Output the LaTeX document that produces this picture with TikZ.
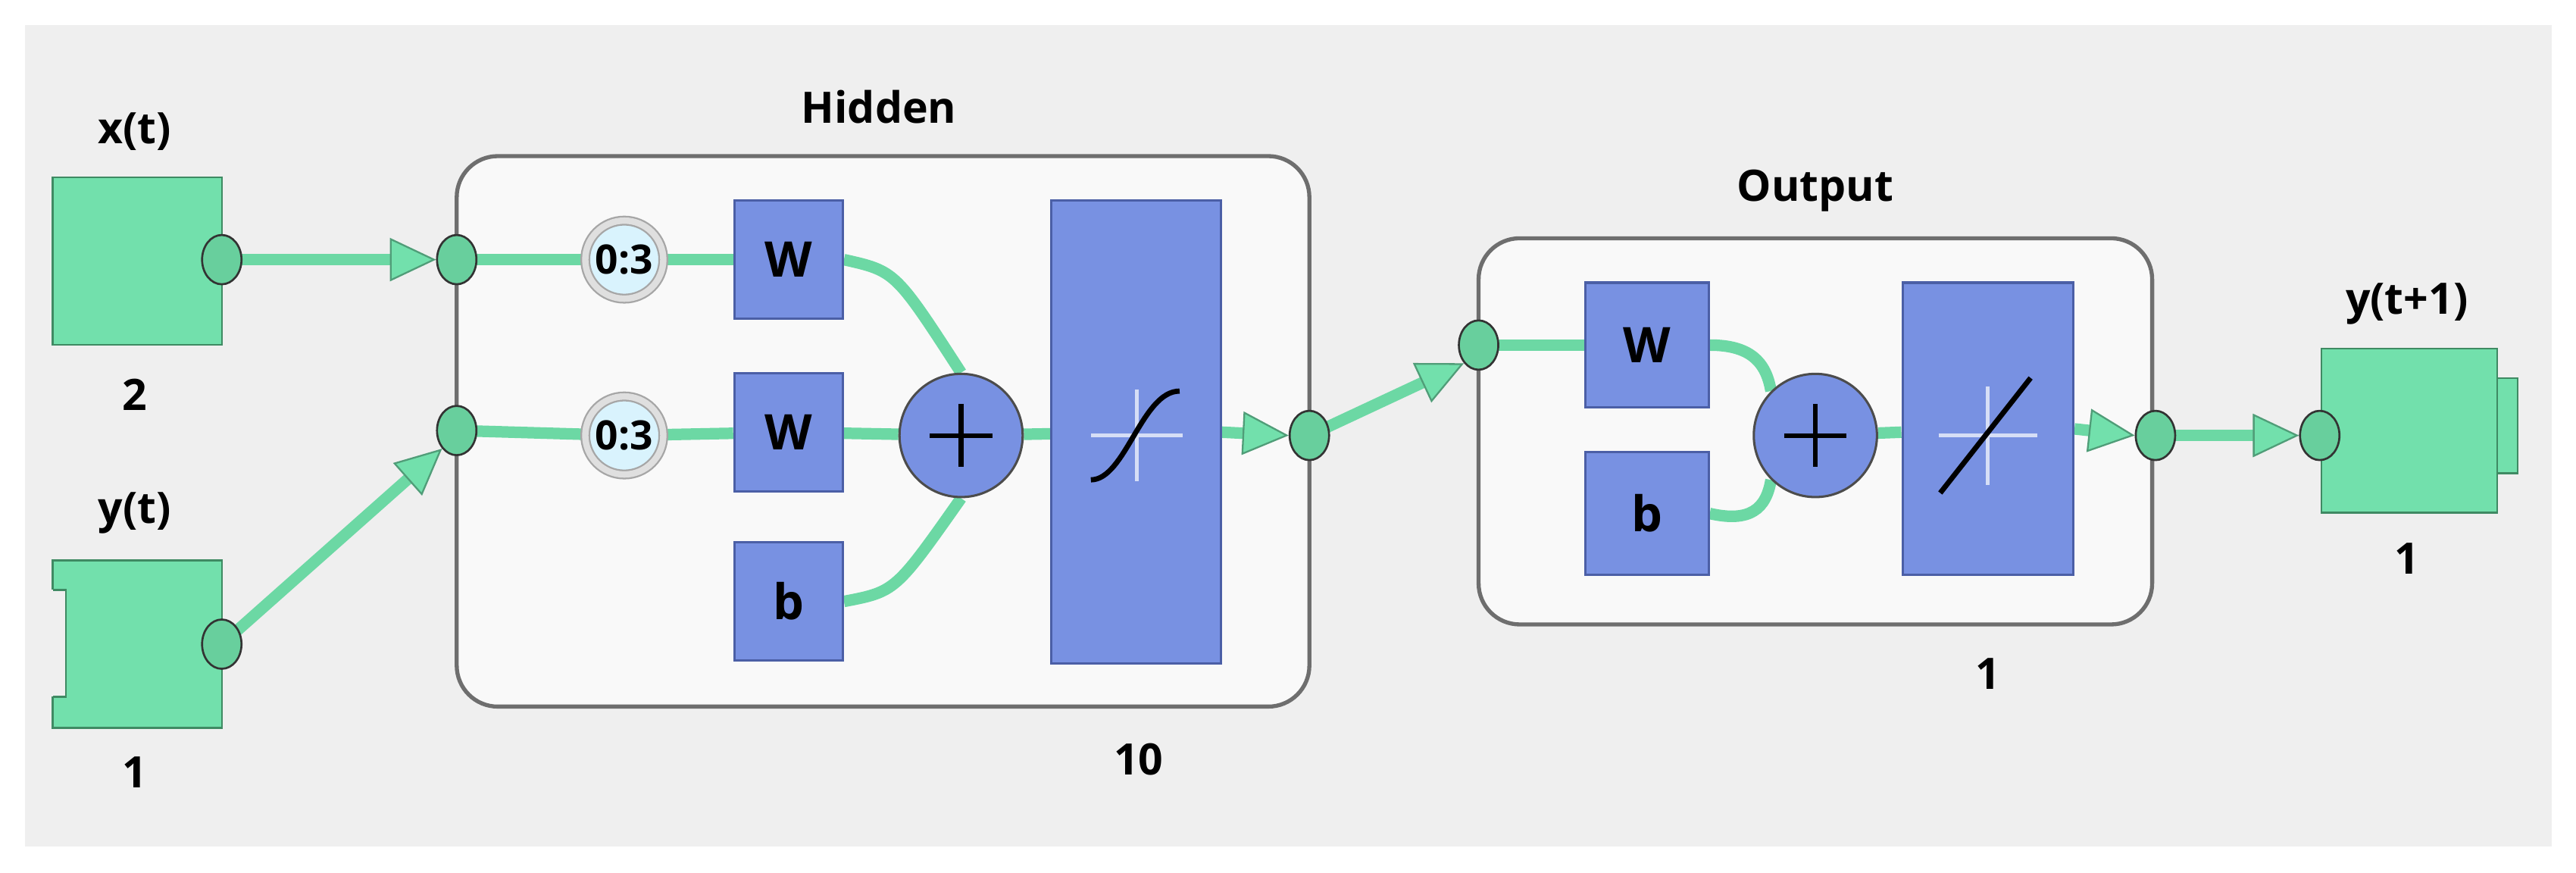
\documentclass[tikz,border=0pt]{standalone}
\usepackage{fontspec}
\setmainfont{Open Sans}
\usetikzlibrary{arrows.meta,backgrounds,shapes.geometric}
\pgfdeclarelayer{wires}
\pgfsetlayers{background,wires,main}
\definecolor{gfill}{HTML}{72E0AC}
\definecolor{gdraw}{HTML}{3F8A63}
\definecolor{bfill}{HTML}{7891E2}
\definecolor{bdraw}{HTML}{4B5FA6}
\definecolor{bgc}{HTML}{EFEFEF}
\definecolor{frame}{HTML}{6E6E6E}
\definecolor{wirec}{HTML}{6CD8A4}
\tikzset{
 lbl/.style={font=\fontsize{15}{18}\selectfont\bfseries},
 io/.style={draw=gdraw,fill=gfill,line width=0.6pt,minimum width=2.06cm,minimum height=2.04cm,inner sep=0},
 port/.style={ellipse,draw=black!80,fill=gfill!80!gdraw,line width=0.7pt,minimum width=0.48cm,minimum height=0.6cm,inner sep=0},
 blk/.style={draw=bdraw,fill=bfill,line width=0.8pt,inner sep=0,font=\fontsize{17}{20}\selectfont\bfseries},
 sum/.style={circle,draw=black!70,fill=bfill,line width=0.8pt,minimum size=1.5cm,inner sep=0},
 clk/.style={circle,draw=gray!70,double=gray!25,double distance=2.2pt,fill=cyan!15,line width=0.6pt,minimum size=0.95cm,inner sep=0,font=\fontsize{14}{16}\selectfont\bfseries},
 layer/.style={draw=frame,fill=white!60!bgc,line width=1.4pt,rounded corners=0.5cm},
 wire/.style={draw=wirec,line width=4pt},
 arr/.style={wire,-{Triangle[length=16pt,width=15pt,line width=0.6pt,fill=gfill,color=gfill!70!black]}},
}
\begin{document}
\begin{tikzpicture}[x=0.02cm,y=-0.02cm]
\useasboundingbox (0,0) rectangle (1568,531);
\begin{pgfonlayer}{background}
\fill[bgc] (15,15) rectangle (1553,515);
\draw[layer] (278,95) rectangle (797,430);
\draw[layer] (900,145) rectangle (1310,380);
\end{pgfonlayer}
\node[lbl] (hid) at (535,65) {Hidden};
\node[lbl] (ten) at (693,462) {10};
\node[lbl] (out) at (1105,116) {Output};
\node[lbl] (one2) at (1210,410) {1};
\node[io] (xb) at (83.5,159) {};
\node[lbl] at (82,80) {x(t)};
\node[lbl] at (82,240) {2};
\node[io] (yb) at (83.5,392) {};
\fill[bgc] (31.5,359) rectangle (40,424);
\draw[gdraw,line width=0.6pt] (32.5,359)--(40,359)--(40,424)--(32.5,424);
\node[lbl] at (82,312) {y(t)};
\node[lbl] at (82,470) {1};
\node[draw=gdraw,fill=gfill,line width=0.6pt,minimum width=0.26cm,minimum height=1.16cm,inner sep=0] (tab) at (1526,259) {};
\node[io,minimum height=2.0cm,minimum width=2.14cm] (yo) at (1466.5,262) {};
\node[lbl] at (1465,185) {y(t+1)};
\node[lbl] at (1465,340) {1};
\node[port] (px) at (135,158) {};
\node[port] (py) at (135,392) {};
\node[port] (h1) at (278,158) {};
\node[port] (h2) at (278,262) {};
\node[port] (ho) at (797,265) {};
\node[port] (oi) at (900,210) {};
\node[port] (oo) at (1312,265) {};
\node[port] (yi) at (1412,265) {};
\node[clk] (c1) at (380,158) {0:3};
\node[clk] (c2) at (380,265) {0:3};
\node[blk,minimum width=1.32cm,minimum height=1.44cm] (w1) at (480,158) {W};
\node[blk,minimum width=1.32cm,minimum height=1.44cm] (w2) at (480,263) {W};
\node[blk,minimum width=1.32cm,minimum height=1.44cm] (b1) at (480,366) {b};
\node[sum] (s1) at (585,265) {};
\draw[line width=1.6pt] (s1.center) ++(-19,0) -- ++(38,0) (s1.center) ++(0,-19) -- ++(0,38);
\node[blk,minimum width=2.06cm,minimum height=5.64cm] (f1) at (691.5,263) {};
\draw[white!70!bfill,line width=1.2pt] (664,265)--(720,265) (692,237)--(692,293);
\draw[line width=1.8pt] (664,292) .. controls (685,292) and (695,238) .. (718,238);
\node[blk,minimum width=1.5cm,minimum height=1.52cm] (w3) at (1002.5,210) {W};
\node[blk,minimum width=1.5cm,minimum height=1.5cm] (b2) at (1002.5,312.5) {b};
\node[sum] (s2) at (1105,265) {};
\draw[line width=1.6pt] (s2.center) ++(-19,0) -- ++(38,0) (s2.center) ++(0,-19) -- ++(0,38);
\node[blk,minimum width=2.08cm,minimum height=3.56cm] (f2) at (1210,261) {};
\draw[white!70!bfill,line width=1.2pt] (1180,265)--(1240,265) (1210,235)--(1210,295);
\draw[line width=1.8pt] (1181,300) -- (1236,230);
\begin{pgfonlayer}{wires}
\draw[arr] (px.center) -- (h1.west);
\draw[arr] (py.center) -- (h2.south west);
\draw[wire] (h1.center) -- (c1) -- (w1);
\draw[wire] (h2.center) -- (c2) -- (w2) -- (s1);
\draw[wire] (w1.east) .. controls (545,165) .. (s1.north);
\draw[wire] (b1.east) .. controls (545,360) .. (s1.south);
\draw[wire] (s1) -- (f1);
\draw[arr] (f1.east) -- (ho.west);
\draw[arr] (ho.center) -- (oi.south west);
\draw[wire] (oi.center) -- (w3);
\draw[wire] (w3.east) .. controls (1065,210) and (1075,220) .. (s2.north west);
\draw[wire] (b2.east) .. controls (1065,318) and (1075,310) .. (s2.south west);
\draw[wire] (s2) -- (f2);
\draw[arr] (f2.east) -- (oo.west);
\draw[arr] (oo.center) -- (yi.west);
\end{pgfonlayer}
\end{tikzpicture}
\end{document}
